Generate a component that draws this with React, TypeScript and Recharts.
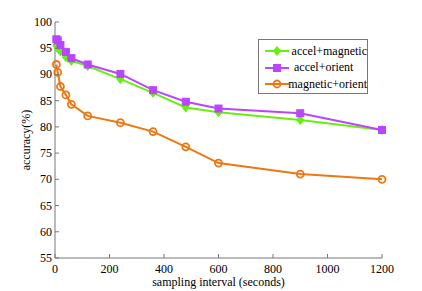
import React from 'react';
import { LineChart, Line, XAxis, YAxis } from 'recharts';

// sampling interval (seconds)
const intervals = [5, 10, 20, 40, 60, 120, 240, 360, 480, 600, 900, 1200];
// accuracy (%)
const accelMagnetic = [95.5, 95.0, 94.4, 93.3, 92.6, 91.6, 89.1, 86.5, 83.7, 82.8, 81.3, 79.4];
const accelOrient = [96.7, 96.5, 95.6, 94.3, 93.1, 91.9, 90.1, 87.0, 84.8, 83.5, 82.6, 79.4];
const magneticOrient = [91.9, 90.4, 87.7, 86.1, 84.3, 82.1, 80.8, 79.1, 76.2, 73.1, 71.0, 70.0];

const xTicks = [0, 200, 400, 600, 800, 1000, 1200];
const yTicks = [55, 60, 65, 70, 75, 80, 85, 90, 95, 100];

const data = intervals.map((x, i) => ({
  x,
  am: accelMagnetic[i],
  ao: accelOrient[i],
  mo: magneticOrient[i],
}));

const FONT = '"Liberation Serif", "Times New Roman", serif';
const AXIS = '#777';
const GREEN = '#66f011';
const PURPLE = '#bb44ff';
const ORANGE = '#ee7711';

const Diamond = ({ cx, cy, color }: any) => (
  <path
    d={`M${cx},${cy - 4.5}L${cx + 3.5},${cy}L${cx},${cy + 4.5}L${cx - 3.5},${cy}Z`}
    fill={color}
    stroke={color}
  />
);
const Square = ({ cx, cy, color }: any) => (
  <rect x={cx - 3.5} y={cy - 3.5} width={7} height={7} fill={color} stroke={color} />
);
const Circle = ({ cx, cy, color }: any) => (
  <circle cx={cx} cy={cy} r={3.5} fill="none" stroke={color} strokeWidth={1.8} />
);

const series = [
  { key: 'am', name: 'accel+magnetic', color: GREEN, Marker: Diamond },
  { key: 'ao', name: 'accel+orient', color: PURPLE, Marker: Square },
  { key: 'mo', name: 'magnetic+orient', color: ORANGE, Marker: Circle },
];

const BottomTick = (props: any) => {
  const { x, y, payload } = props;
  const y0 = y - 4;
  return (
    <g>
      <line x1={x} x2={x} y1={y0} y2={y0 - 4} stroke={AXIS} />
      <text x={x} y={y} dy={11} textAnchor="middle" fontSize={12} fontFamily={FONT} fill="#000">
        {payload.value}
      </text>
    </g>
  );
};

const LeftTick = (props: any) => {
  const { x, y, payload } = props;
  const x0 = x + 3;
  return (
    <g>
      <line x1={x0} x2={x0 + 4} y1={y} y2={y} stroke={AXIS} />
      <text x={x} y={y} dy={4} textAnchor="end" fontSize={12} fontFamily={FONT} fill="#000">
        {payload.value}
      </text>
    </g>
  );
};

const TopTick = (props: any) => {
  const { x, y } = props;
  return <line x1={x} x2={x} y1={y} y2={y + 4} stroke={AXIS} />;
};

const RightTick = (props: any) => {
  const { x, y } = props;
  return <line x1={x} x2={x - 4} y1={y} y2={y} stroke={AXIS} />;
};

const LegendBox = () => (
  <div
    style={{
      position: 'absolute',
      left: 258,
      top: 39,
      width: 110,
      height: 55,
      border: `1px solid ${AXIS}`,
      background: '#fff',
      fontFamily: FONT,
      fontSize: 12,
      boxSizing: 'border-box',
      paddingTop: 3,
    }}
  >
    {series.map(({ key, name, color, Marker }) => (
      <div key={key} style={{ display: 'flex', alignItems: 'center', height: 16.5 }}>
        <svg width={32} height={12} style={{ marginLeft: 4 }}>
          <line x1={2} x2={26} y1={6} y2={6} stroke={color} strokeWidth={2} />
          <Marker cx={14} cy={6} color={color} />
        </svg>
        <span style={{ whiteSpace: 'nowrap', marginLeft: -1 }}>{name}</span>
      </div>
    ))}
  </div>
);

export default function App() {
  return (
    <div style={{ position: 'absolute', left: 0, top: 0, width: 422, height: 291, background: '#fff' }}>
      <LineChart
        width={422}
        height={291}
        data={data}
        margin={{ top: 22, right: 40, bottom: 0, left: 0 }}
      >
        <XAxis
          dataKey="x"
          type="number"
          domain={[0, 1200]}
          ticks={xTicks}
          tickSize={0}
          tickMargin={4}
          tickLine={false}
          tick={<BottomTick />}
          axisLine={{ stroke: AXIS }}
          height={33}
          label={{
            value: 'sampling interval (seconds)',
            position: 'insideBottom',
            offset: 5,
            fontSize: 12,
            fontFamily: FONT,
            fill: '#000',
          }}
        />
        <XAxis
          xAxisId="top"
          orientation="top"
          dataKey="x"
          type="number"
          domain={[0, 1200]}
          ticks={xTicks}
          tickSize={0}
          tickMargin={0}
          tickLine={false}
          tick={<TopTick />}
          axisLine={{ stroke: AXIS }}
          height={0}
        />
        <YAxis
          type="number"
          domain={[55, 100]}
          ticks={yTicks}
          tickSize={0}
          tickMargin={3}
          tickLine={false}
          tick={<LeftTick />}
          axisLine={{ stroke: AXIS }}
          width={55}
          label={{
            value: 'accuracy(%)',
            angle: -90,
            position: 'insideLeft',
            offset: 26,
            style: { textAnchor: 'middle' },
            fontSize: 12,
            fontFamily: FONT,
            fill: '#000',
          }}
        />
        <YAxis
          yAxisId="right"
          orientation="right"
          type="number"
          domain={[55, 100]}
          ticks={yTicks}
          tickSize={0}
          tickMargin={0}
          tickLine={false}
          tick={<RightTick />}
          axisLine={{ stroke: AXIS }}
          width={0}
        />
        {series.map(({ key, name, color, Marker }) => (
          <Line
            key={key}
            dataKey={key}
            name={name}
            type="linear"
            stroke={color}
            strokeWidth={2}
            isAnimationActive={false}
            dot={(p: any) => <Marker key={`${key}-${p.index}`} cx={p.cx} cy={p.cy} color={color} />}
            activeDot={false}
          />
        ))}
      </LineChart>
      <LegendBox />
    </div>
  );
}
